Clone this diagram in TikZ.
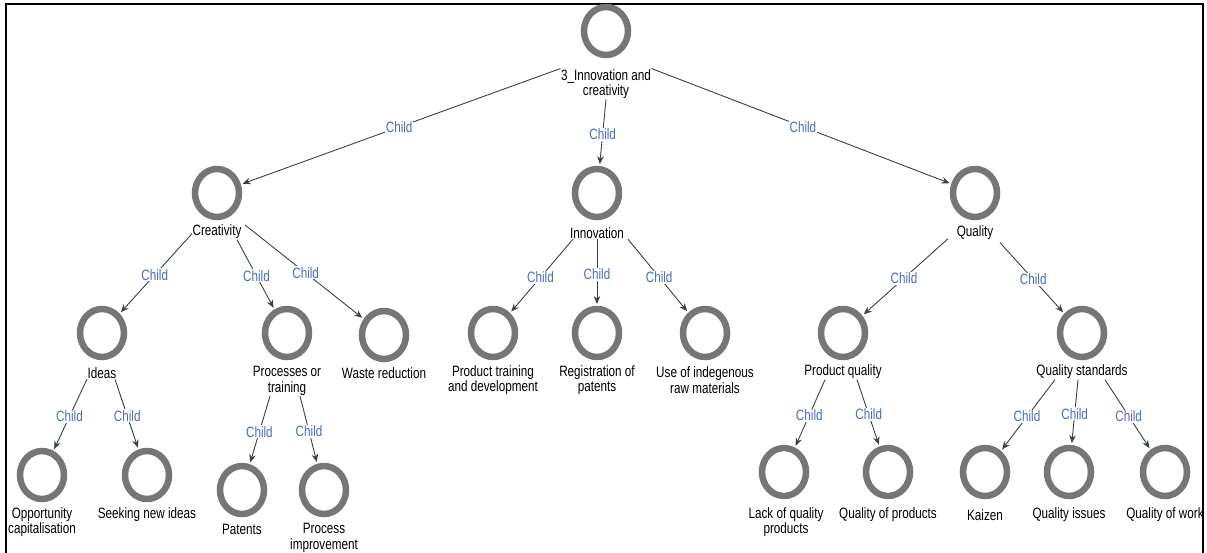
\documentclass[tikz,border=0pt]{standalone}
\usepackage{fontspec}
\setmainfont{Liberation Sans}[FakeStretch=0.78]
\usetikzlibrary{arrows.meta,shapes.geometric,calc}
\definecolor{ringgray}{HTML}{767676}
\definecolor{edgecol}{HTML}{35453F}
\definecolor{childblue}{HTML}{4A6CBE}
\begin{document}
\begin{tikzpicture}[x=1pt,y=-1pt,
  ring/.style={ellipse,draw=ringgray,line width=6.5pt,minimum width=44pt,minimum height=48pt,inner sep=0pt,outer sep=0pt},
  lab/.style={align=center,inner sep=0.5pt,font=\fontsize{15}{15.5}\selectfont,text=black},
  edge/.style={draw=edgecol,line width=0.9pt,-{Stealth[length=8pt,width=6.5pt]},shorten >=5pt},
  childlab/.style={fill=white,inner sep=1pt,text=childblue,font=\fontsize{15}{15}\selectfont}]
\useasboundingbox (0,0) rectangle (1207,553);
\fill[white] (0,0) rectangle (1207,553);
\draw[line width=2pt,black] (6,553) -- (6,4) -- (1203,4) -- (1203,553);
% level 1
\node[ring] (root) at (606,31) {};
\node[lab] (rootl) at (606,84) {3\_Innovation and\\creativity};
% level 2
\node[ring] (cre) at (217,193) {};
\node[lab] (crel) at (217,232) {Creativity};
\node[ring] (inn) at (597,193) {};
\node[lab] (innl) at (597,233) {Innovation};
\node[ring] (qua) at (975,193) {};
\node[lab] (qual) at (975,233) {Quality};
% level 3
\node[ring] (ideas) at (102,333) {};
\node[lab] (ideasl) at (102,373) {Ideas};
\node[ring] (proc) at (287,333) {};
\node[lab] (procl) at (287,381) {Processes or\\training};
\node[ring] (waste) at (384,335) {};
\node[lab] (wastel) at (384,373) {Waste reduction};
\node[ring] (ptd) at (493,333) {};
\node[lab] (ptdl) at (493,380) {Product training\\and development};
\node[ring] (reg) at (597,333) {};
\node[lab] (regl) at (597,380) {Registration of\\patents};
\node[ring] (use) at (705,333) {};
\node[lab] (usel) at (705,380) {Use of indegenous\\raw materials};
\node[ring] (pq) at (843,333) {};
\node[lab] (pql) at (843,372) {Product quality};
\node[ring] (qs) at (1082,333) {};
\node[lab] (qsl) at (1082,372) {Quality standards};
% level 4
\node[ring] (opp) at (42,475) {};
\node[lab] (oppl) at (42,522) {Opportunity\\capitalisation};
\node[ring] (seek) at (147,475) {};
\node[lab] (seekl) at (147,515) {Seeking new ideas};
\node[ring] (pat) at (242,490) {};
\node[lab] (patl) at (242,529) {Patents};
\node[ring] (pimp) at (324,490) {};
\node[lab] (pimpl) at (324,538) {Process\\improvement};
\node[ring] (lack) at (784,472) {};
\node[lab] (lackl) at (786,522) {Lack of quality\\products};
\node[ring] (qop) at (888,472) {};
\node[lab] (qopl) at (888,515) {Quality of products};
\node[ring] (kai) at (985,472) {};
\node[lab] (kail) at (985,515) {Kaizen};
\node[ring] (qi) at (1069,472) {};
\node[lab] (qil) at (1069,515) {Quality issues};
\node[ring] (qw) at (1165,472) {};
\node[lab] (qwl) at (1165,515) {Quality of work};
% edges
\draw[edge] (rootl.north west) -- node[childlab]{Child} (cre);
\draw[edge] (rootl.south) -- node[childlab]{Child} (inn);
\draw[edge] (rootl.north east) -- node[childlab]{Child} (qua);
\draw[edge] ($(crel.south)+(-25,-6)$) -- node[childlab]{Child} (ideas);
\draw[edge] ($(crel.south)+(20,0)$) -- node[childlab]{Child} (proc);
\draw[edge] ($(crel.east)+(3,-7)$) -- node[childlab]{Child} (waste);
\draw[edge] ($(innl.south)+(-24,0)$) -- node[childlab]{Child} (ptd);
\draw[edge] (innl.south) -- node[childlab]{Child} (reg);
\draw[edge] ($(innl.south)+(31,0)$) -- node[childlab]{Child} (use);
\draw[edge] ($(qual.south)+(-27,-2)$) -- node[childlab]{Child} (pq);
\draw[edge] ($(qual.south)+(25,2)$) -- node[childlab]{Child} (qs);
\draw[edge] ($(ideasl.south)+(-15,0)$) -- node[childlab]{Child} (opp);
\draw[edge] ($(ideasl.south)+(13,0)$) -- node[childlab]{Child} (seek);
\draw[edge] ($(procl.south)+(-17,0)$) -- node[childlab]{Child} (pat);
\draw[edge] ($(procl.south)+(13,0)$) -- node[childlab]{Child} (pimp);
\draw[edge] ($(pql.south)+(-18,0)$) -- node[childlab]{Child} (lack);
\draw[edge] ($(pql.south)+(14,0)$) -- node[childlab]{Child} (qop);
\draw[edge] ($(qsl.south)+(-27,0)$) -- node[childlab]{Child} (kai);
\draw[edge] ($(qsl.south)+(-4,0)$) -- node[childlab]{Child} (qi);
\draw[edge] ($(qsl.south)+(23,0)$) -- node[childlab]{Child} (qw);
\end{tikzpicture}
\end{document}
